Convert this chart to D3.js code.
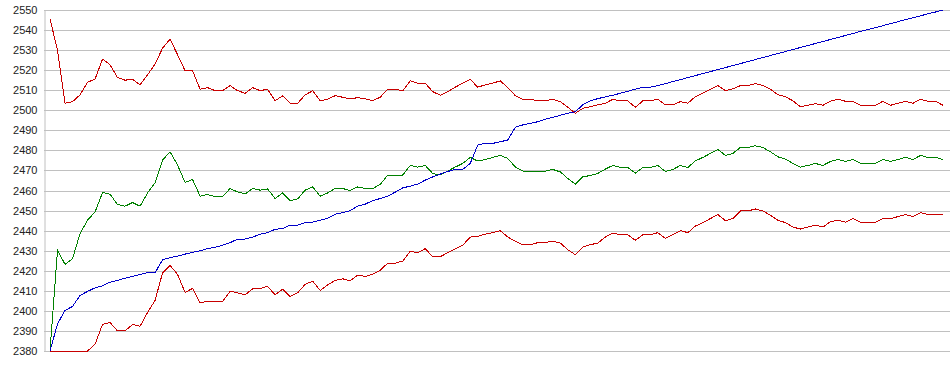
<!DOCTYPE html>
<html>
<head>
<meta charset="utf-8">
<script src="https://cdn.jsdelivr.net/npm/d3@7"></script>
<style>
  body { margin: 0; background: #fff; }
  .axis text { font: 11px "Liberation Sans", Arial, sans-serif; fill: #222; }
  .axis line, .axis path { stroke: #c0c0c0; }
</style>
</head>
<body>
<svg width="950" height="375"></svg>
<script>
let upper = [2545.5, 2530, 2503.5, 2504.3, 2507.7, 2514, 2515.5, 2525.5, 2522.7, 2516.3,
  2515, 2515.5, 2512.7, 2517.7, 2523, 2531, 2535.5, 2527.7, 2519.7, 2519.7,
  2510.5, 2511.3, 2509.8, 2509.8, 2512.3, 2509.8, 2508.5, 2511.3, 2509.8, 2510.5,
  2504.8, 2507.2, 2503.5, 2503.5, 2507.7, 2509.7, 2504.8, 2505.5, 2507.3, 2506.5,
  2505.7, 2506.3, 2505.7, 2504.8, 2506.5, 2510.5, 2510.5, 2509.7, 2514.7, 2513.5,
  2513.5, 2509.3, 2507.5, 2509.3, 2511.5, 2513.5, 2515.5, 2511.5, 2512.7, 2513.5,
  2514.7, 2511.3, 2507.3, 2505.5, 2505.5, 2504.7, 2504.7, 2505.5, 2504.3, 2501.5,
  2498.5, 2501, 2501.8, 2502.7, 2503.5, 2505.5, 2504.7, 2504.7, 2501.5, 2504.7,
  2504.7, 2505.5, 2502.7, 2502.7, 2504.3, 2503.5, 2506.8, 2508.5, 2510.5, 2512.3,
  2509.8, 2510.7, 2512.3, 2512.3, 2513.3, 2512.3, 2510.5, 2507.7, 2506.8, 2504.7,
  2501.8, 2502.5, 2503.3, 2502.5, 2504.5, 2505.5, 2504.5, 2504.5, 2502.5, 2502.5,
  2502.5, 2504.5, 2502.5, 2503.5, 2504.5, 2503.5, 2505.5, 2504.5, 2504.5, 2502.5];

let middle = [2380, 2430.2, 2423.2, 2426, 2438.5, 2445.2, 2449.3, 2459, 2458.2, 2453,
  2452.2, 2454, 2452.2, 2458.8, 2463.8, 2475.2, 2479.3, 2472.7, 2464, 2465.5,
  2457.2, 2458, 2457, 2457, 2461, 2459.3, 2458.3, 2461, 2460.2, 2460.8,
  2456, 2458.8, 2455, 2455.8, 2460.2, 2461.8, 2457.2, 2458.8, 2461, 2461,
  2460, 2461.8, 2461, 2461, 2463, 2467.7, 2467.7, 2467.7, 2472.5, 2471.7,
  2472.5, 2468.5, 2467.7, 2469.7, 2471.7, 2473.5, 2476.5, 2474.7, 2475.5, 2476.5,
  2477.5, 2476, 2471.8, 2469.7, 2469.7, 2469.7, 2469.7, 2470.5, 2469.3, 2466,
  2463.2, 2466.8, 2467.5, 2468.5, 2470.7, 2472.5, 2471.5, 2471.5, 2468.7, 2471.5,
  2471.5, 2472.5, 2469.5, 2470.5, 2472.5, 2471.5, 2474.8, 2476.5, 2478.5, 2480.5,
  2477.5, 2478.5, 2481.5, 2481.5, 2482.3, 2481.5, 2479.3, 2476.8, 2475.7, 2473.5,
  2471.7, 2472.5, 2473.5, 2472.5, 2474.5, 2475.5, 2474.5, 2475.5, 2473.5, 2473.5,
  2473.5, 2475.5, 2474.5, 2475.5, 2476.5, 2475.5, 2477.5, 2476.5, 2476.5, 2475.5];

let trend = [2380, 2393.5, 2400.2, 2402.2, 2407.7, 2409.7, 2411.5, 2412.5, 2414.3, 2415.2,
  2416.3, 2417.2, 2418.2, 2419, 2419, 2425.5, 2426.5, 2427.3, 2428.3, 2429.2,
  2430, 2431, 2431.7, 2432.7, 2434, 2435.8, 2435.8, 2436.8, 2438.2, 2439,
  2440.7, 2441, 2442.8, 2442.8, 2444, 2444.2, 2445.2, 2446.2, 2448.2, 2449,
  2450, 2452.2, 2453.2, 2455, 2456, 2457.2, 2459.2, 2461.3, 2462.2, 2463.2,
  2465.2, 2466.8, 2468.2, 2469.5, 2470.5, 2470.5, 2473.5, 2482.7, 2483.5, 2483.5,
  2484.3, 2485.2, 2491.5, 2492.7, 2493.5, 2494.3, 2495.5, 2496.5, 2497.5, 2498.5,
  2499.3, 2502.7, 2504.8, 2505.8, 2506.7, 2507.5, 2508.5, 2509.5, 2510.5, 2511.5,
  2511.5, 2512.3, 2513.3, 2514.3, 2515.3, 2516.3, 2517.3, 2518.3, 2519.3, 2520.3,
  2521.3, 2522.3, 2523.3, 2524.3, 2525.3, 2526.3, 2527.3, 2528.3, 2529.3, 2530.3,
  2531.3, 2532.3, 2533.3, 2534.3, 2535.3, 2536.3, 2537.3, 2538.3, 2539.3, 2540.3,
  2541.2, 2542.2, 2543.2, 2544.2, 2545.2, 2546.1, 2547.1, 2548.1, 2549, 2550];

let lower = [2380, 2380, 2380, 2380, 2380, 2380, 2383.3, 2393.3, 2394.2, 2390,
  2390, 2393.2, 2392.3, 2399.2, 2405.2, 2419, 2422.7, 2418.2, 2409.2, 2411.2,
  2404, 2404.8, 2404.8, 2404.8, 2409.8, 2409, 2408, 2411, 2411.2, 2412.2,
  2408, 2410.8, 2407.2, 2409, 2413.2, 2414.8, 2410.2, 2413, 2415.2, 2416,
  2415, 2417.8, 2417.2, 2418.2, 2420.2, 2423.8, 2423.8, 2424.8, 2429.8, 2429,
  2431, 2427, 2427, 2429, 2431, 2432.7, 2436.8, 2437.2, 2438.2, 2439,
  2440, 2436.8, 2434.8, 2433, 2433, 2434, 2434, 2434.8, 2433.8, 2430.5,
  2428, 2431.8, 2433, 2433.8, 2436.8, 2438.8, 2438, 2438, 2435.2, 2438,
  2438, 2439, 2436.2, 2438, 2440, 2439, 2442.3, 2444, 2446, 2448,
  2445, 2446, 2449.8, 2449.8, 2450.8, 2449.8, 2447.7, 2445.2, 2444, 2441.8,
  2440.8, 2441.8, 2442.8, 2441.8, 2444.5, 2445.2, 2444.2, 2446, 2444.2, 2444.2,
  2444.2, 2446, 2446, 2447, 2448, 2447, 2449, 2448, 2448, 2448];

let yTicks = d3.range(2380, 2551, 10);

let series = [
  {id: "upper", values: upper, color: "#c80000"},
  {id: "middle", values: middle, color: "#008000"},
  {id: "trend", values: trend, color: "#0000c8"},
  {id: "lower", values: lower, color: "#c80000"}
];

let svg = d3.select("svg"),
    margin = {top: 10, right: 0, bottom: 24, left: 44},
    width = svg.attr("width") - margin.left - margin.right,
    height = svg.attr("height") - margin.top - margin.bottom,
    g = svg.append("g").attr("transform", "translate(" + margin.left + "," + margin.top + ")");

let x = d3.scaleLinear().domain([0, upper.length - 1]).range([6, 899]),
    y = d3.scaleLinear().domain([2380, 2550]).range([height, 0]);

g.append("g")
    .attr("class", "axis")
    .attr("transform", "translate(0.5,0)")
    .call(d3.axisLeft(y).tickValues(yTicks).tickSize(-width).tickSizeOuter(0).tickPadding(7).tickFormat(d3.format("d")))
    .call(function(a) { a.selectAll(".tick line").attr("transform", "translate(-0.5,0)"); })
    .selectAll(".tick").attr("transform", function(d) { return "translate(0," + (Math.round(y(d)) + 0.5) + ")"; });

let line = d3.line()
    .x(function(d, i) { return x(i); })
    .y(function(d) { return y(d); });

// old-style chart: plain 1px lines without smoothing
g.selectAll(".series")
    .data(series)
    .enter().append("path")
    .attr("class", "series")
    .attr("fill", "none")
    .attr("stroke-width", 1)
    .attr("shape-rendering", "crispEdges")
    .attr("stroke", function(d) { return d.color; })
    .attr("d", function(d) { return line(d.values); });
</script>
</body>
</html>
